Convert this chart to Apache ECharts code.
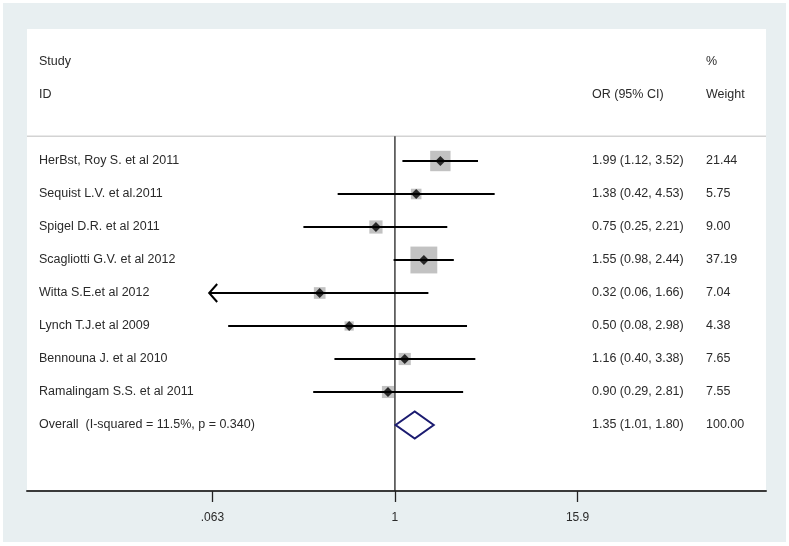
<!DOCTYPE html>
<html>
<head>
<meta charset="utf-8">
<script src="https://cdn.jsdelivr.net/npm/echarts@6/dist/echarts.min.js"></script>
<style>
  html, body { margin: 0; padding: 0; background: #ffffff; }
  #chart { width: 789px; height: 546px; }
</style>
</head>
<body>
<div id="chart"></div>
<script>
// ---------------- data ----------------
const studies = [
  'HerBst, Roy S. et al 2011',
  'Sequist L.V. et al.2011',
  'Spigel D.R. et al 2011',
  'Scagliotti G.V. et al 2012',
  'Witta S.E.et al 2012',
  'Lynch T.J.et al 2009',
  'Bennouna J. et al 2010',
  'Ramalingam S.S. et al 2011'
];
const orValues = [1.99, 1.38, 0.75, 1.55, 0.32, 0.50, 1.16, 0.90];
const ciLower  = [1.12, 0.42, 0.25, 0.98, 0.06, 0.08, 0.40, 0.29];
const ciUpper  = [3.52, 4.53, 2.21, 2.44, 1.66, 2.98, 3.38, 2.81];
const weights  = [21.44, 5.75, 9.00, 37.19, 7.04, 4.38, 7.65, 7.55];

const overallLabel  = 'Overall  (I-squared = 11.5%, p = 0.340)';
const overallOR     = 1.35;
const overallLower  = 1.01;
const overallUpper  = 1.80;
const overallWeight = 100.00;

const tickValues = [0.063, 1, 15.9];
const tickLabels = ['.063', '1', '15.9'];
const nullValue  = 1;

const headerStudy  = ['Study', 'ID'];
const headerEst    = 'OR (95% CI)';
const headerWeight = ['%', 'Weight'];

// ---------------- layout / style ----------------
const FONT_FAMILY = '"Liberation Sans", Arial, sans-serif';
const FONT = '12.5px ' + FONT_FAMILY;
const TEXT_COLOR = '#2a2a2a';
const xMin = 0.0038, xMax = 276;      // axis range (log scale)
const yMin = -4, yMax = 10;           // row space
const headerRows = [-3, -2];
const headerSepRow = -0.75;
const colStudy = 12, colEst = 565, colWeight = 679; // px from grid left
const boxScale = 4.4;
const diamondHalfH = 13.5;

const nStudies = studies.length;
const fmt2 = v => v.toFixed(2);

// table rows built from arrays
const tableRows = [];
tableRows.push({ row: headerRows[0], label: headerStudy[0], est: '', wt: headerWeight[0] });
tableRows.push({ row: headerRows[1], label: headerStudy[1], est: headerEst, wt: headerWeight[1] });
studies.forEach((s, i) => tableRows.push({
  row: i, label: s,
  est: fmt2(orValues[i]) + ' (' + fmt2(ciLower[i]) + ', ' + fmt2(ciUpper[i]) + ')',
  wt: fmt2(weights[i])
}));
tableRows.push({
  row: nStudies, label: overallLabel,
  est: fmt2(overallOR) + ' (' + fmt2(overallLower) + ', ' + fmt2(overallUpper) + ')',
  wt: fmt2(overallWeight)
});

const chart = echarts.init(document.getElementById('chart'), null, { renderer: 'canvas' });

function nearestTickLabel(v) {
  let best = 0, bd = Infinity;
  tickValues.forEach((t, i) => {
    const d = Math.abs(Math.log(v) - Math.log(t));
    if (d < bd) { bd = d; best = i; }
  });
  return tickLabels[best];
}

const option = {
  animation: false,
  backgroundColor: '#ffffff',
  textStyle: { fontFamily: FONT_FAMILY },
  graphic: [{
    type: 'rect', left: 3, top: 3, z: -10,
    shape: { width: 783, height: 539 },
    style: { fill: '#e8eff1' }
  }],
  grid: {
    left: 27, right: 23, top: 29, bottom: 55,
    show: true, backgroundColor: '#ffffff', borderWidth: 0
  },
  xAxis: {
    type: 'log', logBase: 10, min: xMin, max: xMax,
    axisLine: { show: true, onZero: false, lineStyle: { color: '#3a3a3a', width: 2 } },
    axisTick: { show: true, customValues: tickValues, length: 11, lineStyle: { color: '#222', width: 1.3 } },
    axisLabel: {
      customValues: tickValues, margin: 21, fontSize: 12, color: TEXT_COLOR,
      fontFamily: FONT_FAMILY,
      formatter: v => nearestTickLabel(v)
    },
    splitLine: { show: false },
    minorTick: { show: false }
  },
  yAxis: {
    type: 'value', min: yMin, max: yMax, inverse: true,
    show: false, splitLine: { show: false }
  },
  series: [
    // header separator + null line
    {
      type: 'custom', name: 'guides', silent: true, z: 1,
      encode: { x: 0, y: 1 },
      data: [[nullValue, headerSepRow]],
      renderItem: (params, api) => {
        const cs = params.coordSys;
        const top = api.coord([nullValue, headerSepRow]);
        const bot = api.coord([nullValue, yMax]);
        return {
          type: 'group', children: [
            { type: 'line', shape: { x1: cs.x, y1: top[1], x2: cs.x + cs.width, y2: top[1] },
              style: { stroke: '#d3d3d3', lineWidth: 1.5 } },
            { type: 'line', shape: { x1: top[0], y1: top[1], x2: bot[0], y2: bot[1] },
              style: { stroke: '#222', lineWidth: 1.3 } }
          ]
        };
      }
    },
    // boxes (weights)
    {
      type: 'scatter', name: 'weight box', z: 2,
      symbol: 'rect',
      symbolSize: v => boxScale * Math.sqrt(v[2]),
      itemStyle: { color: '#b3b3b3' },
      data: studies.map((s, i) => [orValues[i], i, weights[i]])
    },
    // confidence intervals
    {
      type: 'custom', name: 'ci', z: 3,
      encode: { x: [0, 1], y: 2 },
      data: studies.map((s, i) => [ciLower[i], ciUpper[i], i]),
      renderItem: (params, api) => {
        const lo = api.value(0), hi = api.value(1), row = api.value(2);
        const p1 = api.coord([lo, row]);
        const p2 = api.coord([hi, row]);
        const children = [{
          type: 'line', shape: { x1: p1[0], y1: p1[1], x2: p2[0], y2: p2[1] },
          style: { stroke: '#000', lineWidth: 2 }
        }];
        if (lo < tickValues[0]) {
          children.push({
            type: 'polyline',
            shape: { points: [[p1[0] + 8, p1[1] - 9], [p1[0], p1[1]], [p1[0] + 8, p1[1] + 9]] },
            style: { stroke: '#000', lineWidth: 2, fill: null }
          });
        }
        return { type: 'group', children };
      }
    },
    // point estimates
    {
      type: 'scatter', name: 'estimate', z: 4,
      symbol: 'diamond', symbolSize: [10, 10],
      itemStyle: { color: '#000' },
      data: studies.map((s, i) => [orValues[i], i])
    },
    // overall diamond
    {
      type: 'custom', name: 'overall', z: 4,
      encode: { x: [0, 1, 2], y: 3 },
      data: [[overallLower, overallOR, overallUpper, nStudies]],
      renderItem: (params, api) => {
        const row = api.value(3);
        const l = api.coord([api.value(0), row]);
        const c = api.coord([api.value(1), row]);
        const r = api.coord([api.value(2), row]);
        return {
          type: 'polygon',
          shape: { points: [[l[0], c[1]], [c[0], c[1] - diamondHalfH], [r[0], c[1]], [c[0], c[1] + diamondHalfH]] },
          style: { stroke: '#1b1b70', lineWidth: 2, fill: 'rgba(0,0,0,0)' }
        };
      }
    },
    // table text
    {
      type: 'custom', name: 'table', z: 5, silent: true,
      encode: { x: 0, y: 1 },
      data: tableRows.map(r => [nullValue, r.row]),
      renderItem: (params, api) => {
        const cs = params.coordSys;
        const r = tableRows[params.dataIndex];
        const y = api.coord([nullValue, api.value(1)])[1];
        const mk = (x, t) => ({
          type: 'text', x: cs.x + x, y: y,
          style: { text: t, fill: TEXT_COLOR, font: FONT, align: 'left', verticalAlign: 'middle' }
        });
        return { type: 'group', children: [mk(colStudy, r.label), mk(colEst, r.est), mk(colWeight, r.wt)] };
      }
    }
  ]
};
chart.setOption(option);
</script>
</body>
</html>
